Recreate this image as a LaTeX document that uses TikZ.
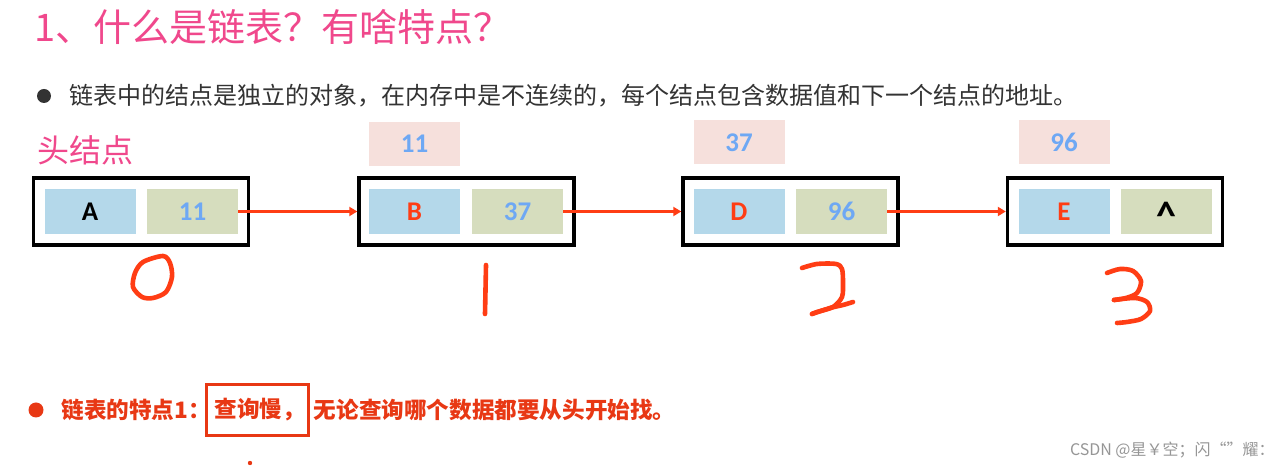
\documentclass[tikz,border=0pt]{standalone}
\usepackage{fontspec}
\setmainfont{Noto Sans CJK SC}
\newfontfamily\latinfont{Carlito}
\usetikzlibrary{arrows.meta,positioning}

\definecolor{valcol}{RGB}{180, 216, 234}
\definecolor{ptrcol}{RGB}{214, 221, 190}
\definecolor{addrcol}{RGB}{246, 224, 220}
\definecolor{numblue}{RGB}{110, 168, 244}
\definecolor{linkred}{RGB}{255, 61, 20}
\definecolor{titlepink}{RGB}{240, 72, 140}
\definecolor{notered}{RGB}{232, 56, 20}
\definecolor{textgray}{RGB}{51, 51, 51}
\definecolor{markgray}{RGB}{150, 150, 150}

\tikzset{
  cell/.style={minimum width=45.5pt, minimum height=22.5pt, inner sep=0pt,
    font=\latinfont\bfseries\fontsize{13.5}{14}\selectfont},
  valcell/.style={cell, fill=valcol},
  ptrcell/.style={cell, fill=ptrcol},
  addrcell/.style={cell, fill=addrcol, text=numblue, minimum height=22pt},
  nodebox/.style={draw=black, line width=1.7pt, minimum width=107.5pt, minimum height=33.5pt},
  link/.style={linkred, line width=1.3pt, -{Triangle[length=4pt, width=4.5pt]}},
  hand/.style={linkred, line width=2.3pt, line cap=round, line join=round},
  bullet/.style={circle, inner sep=0pt, minimum size=7pt},
  featfont/.style={text=notered, font=\bfseries\fontsize{11.3}{13}\selectfont},
}

\begin{document}
\begin{tikzpicture}[x=0.5pt, y=-0.5pt]
        \def\yRow{211.5}
        \def\yAddr{142.5}

        % Canvas
        \fill[white] (0,0) rectangle (1286,469);
        \useasboundingbox (0,0) rectangle (1286,469);

        % Heading
        \node[anchor=west, text=titlepink, font=\fontsize{19}{21}\selectfont, inner sep=0pt] (title) at (34,27) {1、什么是链表？有啥特点？};

        % First bullet
        \node[bullet, fill=textgray] (dot1) at (44,96) {};
        \node[anchor=west, text=textgray, font=\fontsize{12}{13}\selectfont, inner sep=0pt] (desc) at (69,96) {链表中的结点是独立的对象，在内存中是不连续的，每个结点包含数据值和下一个结点的地址。};
        \node[anchor=west, text=titlepink, font=\fontsize{16}{18}\selectfont, inner sep=0pt] (head) at (37,150) {头结点};

        % Node frames
        \node[nodebox] (n0) at (141,\yRow) {};
        \node[nodebox] (n1) at (466.5,\yRow) {};
        \node[nodebox] (n2) at (790.5,\yRow) {};
        \node[nodebox] (n3) at (1115,\yRow) {};

        % Data and next fields
        \node[valcell] (v0) at (90,\yRow) {A};
        \node[ptrcell, text=numblue] (p0) at (192.5,\yRow) {11};
        \node[valcell, text=linkred] (v1) at (414.5,\yRow) {B};
        \node[ptrcell, text=numblue] (p1) at (517.5,\yRow) {37};
        \node[valcell, text=linkred] (v2) at (739,\yRow) {D};
        \node[ptrcell, text=numblue] (p2) at (841.5,\yRow) {96};
        \node[valcell, text=linkred] (v3) at (1064,\yRow) {E};
        \node[ptrcell] (p3) at (1166.5,\yRow) {\smash{\raisebox{-9pt}{\fontsize{20}{20}\selectfont\textasciicircum}}};

        % Addresses
        \node[addrcell] (a1) at (414.5,144) {11};
        \node[addrcell] (a2) at (739,\yAddr) {37};
        \node[addrcell] (a3) at (1064,\yAddr) {96};

        % Links
        \draw[link] (p0.east) -- (n1.west);
        \draw[link] (p1.east) -- (n2.west);
        \draw[link] (p2.east) -- (n3.west);

        % Handwritten indices
        \draw[hand] plot[smooth cycle] coordinates {(163,256) (143,262) (135,273) (133,287) (142,297) (153,298) (166,292) (172,277) (170,263)};
        \draw[hand] plot[smooth] coordinates {(486,265) (485.5,290) (485,314)};
        \draw[hand] plot[smooth] coordinates {(802,268) (817,264) (836,264) (842,269) (843,283) (842,297) (833,307) (817,312) (812,314)};
        \draw[hand] plot[smooth] coordinates {(812,314) (830,308) (843,305) (853,302)};
        \draw[hand] plot[smooth] coordinates {(1107,273) (1120,269) (1133,271) (1141,281) (1137,293) (1126,298) (1114,300)};
        \draw[hand] plot[smooth] coordinates {(1114,300) (1135,298) (1147,302) (1150,311) (1141,319) (1127,322) (1117,323)};

        % Feature line
        \node[bullet, fill=notered, minimum size=7.5pt] (dot2) at (36,410) {};
        \node[anchor=west, featfont, inner sep=0pt] (feat) at (61,410) {链表的特点1：};
        \node[right=-3pt of feat, draw=notered, line width=1.5pt, featfont, minimum height=25.5pt, inner xsep=1.5pt] (slow) {\hspace{2.5pt}查询慢，};
        \node[right=2pt of slow, featfont, inner sep=0pt] (rest) {无论查询哪个数据都要从头开始找。};
        \fill[notered] (250,463) circle (2.2);

        % Watermark
        \node[anchor=east, text=markgray, font=\fontsize{8}{9}\selectfont, inner sep=0pt] (mark) at (1275,450) {CSDN @星￥空；闪“”耀：};
      \end{tikzpicture}
\end{document}
